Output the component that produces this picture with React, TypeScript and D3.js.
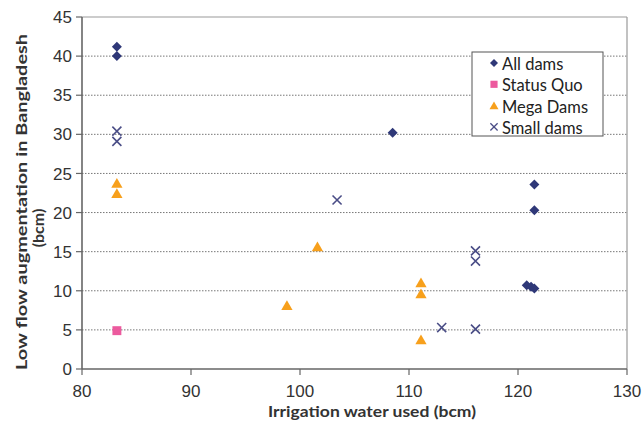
import { useEffect } from 'react';
import * as d3 from 'd3';

// Values (irrigation water used, low flow augmentation), bcm
const allDamsX = [83.2, 83.2, 108.5, 121.5, 121.5, 120.8, 121.2, 121.5];
const allDamsY = [41.2, 40.0, 30.2, 23.6, 20.3, 10.7, 10.5, 10.3];

const statusQuoX = [83.2];
const statusQuoY = [4.9];

const megaDamsX = [83.2, 83.2, 98.8, 101.6, 111.1, 111.1, 111.1];
const megaDamsY = [23.7, 22.4, 8.1, 15.6, 11.0, 9.6, 3.7];

const smallDamsX = [83.2, 83.2, 103.4, 113.0, 116.1, 116.1, 116.1];
const smallDamsY = [30.4, 29.1, 21.6, 5.3, 15.1, 13.8, 5.1];

const xTicks = [80, 90, 100, 110, 120, 130];
const yTicks = [0, 5, 10, 15, 20, 25, 30, 35, 40, 45];

const seriesNames = ['All dams', 'Status Quo', 'Mega Dams', 'Small dams'];

const W = 642;
const H = 422;
const margin = { top: 17, right: 15, bottom: 53, left: 82 };

const colors = {
  all: '#2f3878',
  quo: '#ec5a9e',
  mega: '#f7a01c',
  small: '#4a4d86',
};

const diamond = d3.symbol(d3.symbolSquare, 50)();
const square = d3.symbol(d3.symbolSquare, 80)();
const triangle = d3.symbol(d3.symbolTriangle, 55)();
const cross = d3.symbol(d3.symbolTimes, 55)();

function Marker({ kind, x, y, k = 1 }: { kind: number; x: number; y: number; k?: number }) {
  if (kind === 0) return <path d={diamond!} transform={`translate(${x},${y}) scale(${k}) rotate(45)`} fill={colors.all} />;
  if (kind === 1) return <path d={square!} transform={`translate(${x},${y}) scale(${k})`} fill={colors.quo} />;
  if (kind === 2) return <path d={triangle!} transform={`translate(${x},${y + 1}) scale(${k})`} fill={colors.mega} />;
  return <path d={cross!} transform={`translate(${x},${y}) scale(${k})`} fill="none" stroke={colors.small} strokeWidth={1.6} />;
}

export default function App() {
  useEffect(() => {
    document.body.style.margin = '0';
  }, []);

  const x = d3.scaleLinear().domain([80, 130]).range([margin.left, W - margin.right]);
  const y = d3.scaleLinear().domain([0, 45]).range([H - margin.bottom, margin.top]);

  const series = [
    { kind: 0, xs: allDamsX, ys: allDamsY },
    { kind: 1, xs: statusQuoX, ys: statusQuoY },
    { kind: 2, xs: megaDamsX, ys: megaDamsY },
    { kind: 3, xs: smallDamsX, ys: smallDamsY },
  ];

  const x0 = x(80);
  const x1 = x(130);
  const y0 = y(0);
  const y1 = y(45);

  const legend = { x: 472, y: 52, w: 131, h: 84 };

  return (
    <svg width={W} height={H} style={{ display: 'block', background: '#fff' }}>
      {/* grid */}
      {yTicks.filter((t) => t > 0 && t < 45).map((t) => (
        <line key={t} x1={x0} x2={x1} y1={y(t)} y2={y(t)} stroke="#777" strokeWidth={1} strokeDasharray="1.5,1.5" />
      ))}
      {/* plot frame top/right */}
      <line x1={x0} x2={x1} y1={y1} y2={y1} stroke="#999" strokeWidth={1.2} />
      <line x1={x1} x2={x1} y1={y1} y2={y0} stroke="#999" strokeWidth={1.2} />
      {/* axes */}
      <line x1={x0} x2={x0} y1={y1} y2={y0} stroke="#666" strokeWidth={1.6} />
      <line x1={x0} x2={x1} y1={y0} y2={y0} stroke="#666" strokeWidth={1.6} />
      {yTicks.map((t) => (
        <g key={t}>
          <line x1={x0 - 6} x2={x0} y1={y(t)} y2={y(t)} stroke="#666" strokeWidth={1.2} />
          <text x={x0 - 10} y={y(t)} dy="0.36em" textAnchor="end" fontFamily="Liberation Sans, Arial, sans-serif" fontSize={17} fill="#333">
            {t}
          </text>
        </g>
      ))}
      {xTicks.map((t) => (
        <g key={t}>
          <line x1={x(t)} x2={x(t)} y1={y0} y2={y0 + 6} stroke="#666" strokeWidth={1.2} />
          <text x={x(t)} y={y0 + 28} textAnchor="middle" fontFamily="Liberation Sans, Arial, sans-serif" fontSize={17} fill="#333">
            {t}
          </text>
        </g>
      ))}
      {/* axis titles */}
      <text x={372} y={417} textAnchor="middle" fontFamily="Lato, sans-serif" fontWeight="bold" fontSize={16} fill="#333" textLength={208} lengthAdjust="spacingAndGlyphs">
        Irrigation water used (bcm)
      </text>
      <text transform="translate(27,202) rotate(-90)" textAnchor="middle" fontFamily="Lato, sans-serif" fontWeight="bold" fontSize={16} fill="#333" textLength={336} lengthAdjust="spacingAndGlyphs">
        Low flow augmentation in Bangladesh
      </text>
      <text transform="translate(44,228) rotate(-90)" textAnchor="middle" fontFamily="Lato, sans-serif" fontWeight="bold" fontSize={16} fill="#333">
        (bcm)
      </text>
      {/* points */}
      {series.map((s) =>
        s.xs.map((v, i) => <Marker key={`${s.kind}-${i}`} kind={s.kind} x={x(v)} y={y(s.ys[i])} />)
      )}
      {/* legend */}
      <rect x={legend.x} y={legend.y} width={legend.w} height={legend.h} fill="#fff" stroke="#555" strokeWidth={1} />
      {seriesNames.map((name, i) => {
        const ly = legend.y + 12 + i * 21.3;
        return (
          <g key={name}>
            <Marker kind={i} x={494} y={ly - 1} k={0.8} />
            <text x={502} y={ly} dy="0.36em" fontFamily="Lato, sans-serif" fontSize={16.5} fill="#222">
              {name}
            </text>
          </g>
        );
      })}
    </svg>
  );
}
